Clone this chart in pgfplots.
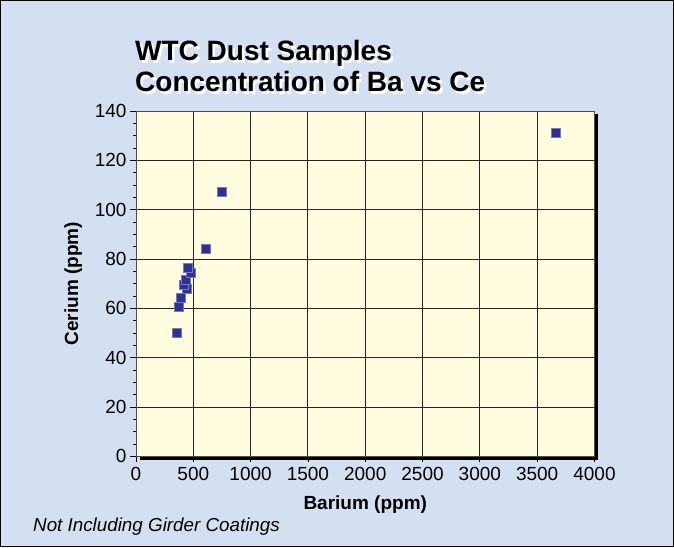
\documentclass[border=0pt]{standalone}
\usepackage{pgfplots}
\pgfplotsset{compat=1.18}
\usepackage{fontspec}
\setmainfont{Liberation Sans}
\definecolor{bgblue}{RGB}{212,224,242}
\definecolor{plotyellow}{RGB}{255,252,224}
\definecolor{markblue}{RGB}{46,49,146}
\newcommand{\shadowtext}[1]{\rlap{\hspace{2.5pt}\raisebox{-2.5pt}{\color{white}#1}}#1}
\begin{document}
\begin{tikzpicture}[x=1pt,y=1pt]
\fill[bgblue] (0,0) rectangle (674,547);
\draw[black, line width=1pt] (0.5,0.5) rectangle (673.5,546.5);
% plot area shadow
\fill[black] (139.5,87.2) rectangle (597.8,432.5);
\begin{axis}[
  at={(136pt,90.7pt)}, anchor=south west,
  width=458.5pt, height=345.3pt, scale only axis,
  xmin=0, xmax=4000, ymin=0, ymax=140,
  xtick={0,500,...,4000}, ytick={0,20,...,140},
  minor x tick num=4, minor y tick num=3,
  tick align=outside,
  major tick length=6pt, minor tick length=3.5pt,
  xtick pos=bottom, ytick pos=left,
  grid=major,
  major grid style={black!85, line width=0.9pt},
  axis background/.style={fill=plotyellow},
  axis line style={black!70, line width=0.8pt},
  tick style={black, line width=0.8pt},
  /pgf/number format/assume math mode=true,
  /pgf/number format/1000 sep={},
  ticklabel style={font=\fontsize{19}{22}\selectfont},
  xticklabel style={yshift=-1pt},
  xlabel={\textbf{Barium (ppm)}},
  ylabel={\textbf{Cerium (ppm)}},
  xlabel style={font=\fontsize{19}{22}\selectfont, at={(axis description cs:0.5,-0.14)}, anchor=center},
  ylabel style={font=\fontsize{19}{22}\selectfont, at={(axis description cs:-0.137,0.5)}, anchor=center, rotate=0},
  clip=false,
]
\addplot[only marks, mark=square*, mark size=4.5pt,
  mark options={fill=markblue, draw=markblue!65!white, line width=0.6pt}]
  coordinates {
  (358,50.0) (373,60.8) (387,64.1) (442,68.1) (421,69.6) (434,71.5)
  (474,74.2) (451,76.5) (608,84.1) (748,107.1) (3659,131.1)
  };
\end{axis}
% title with shadow
\node[anchor=base west, black, inner sep=0, align=left, font=\bfseries\fontsize{28}{31}\selectfont] at (135,455)
  {\shadowtext{WTC Dust Samples}\\\shadowtext{Concentration of Ba vs Ce}};
\node[anchor=base west, inner sep=0, font=\itshape\fontsize{18.8}{22}\selectfont] at (33,16) {Not Including Girder Coatings};
\end{tikzpicture}
\end{document}
